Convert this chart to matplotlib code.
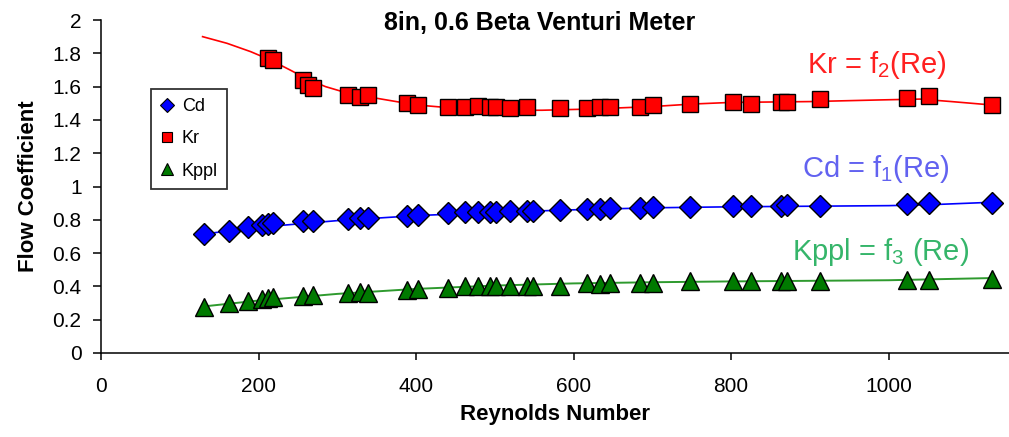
import matplotlib.pyplot as plt
from matplotlib.lines import Line2D

plt.rcParams["font.family"] = ["Liberation Sans", "DejaVu Sans"]
plt.rcParams["mathtext.default"] = "regular"

# Reynolds numbers of the measurements
re = [131, 163, 187, 204, 212, 219, 257, 269, 314, 329, 339, 388, 403, 441, 462, 479,
      494, 502, 519, 541, 549, 583, 617, 634, 646, 684, 701, 748, 803, 826, 864, 871,
      913, 1023, 1051, 1131]
cd = [0.715, 0.735, 0.755, 0.77, 0.775, 0.78, 0.79, 0.795, 0.805, 0.81, 0.81, 0.825,
      0.83, 0.84, 0.845, 0.845, 0.845, 0.845, 0.85, 0.85, 0.85, 0.86, 0.865, 0.865,
      0.87, 0.87, 0.875, 0.875, 0.885, 0.885, 0.885, 0.89, 0.885, 0.895, 0.9, 0.9]
kppl = [0.275, 0.3, 0.315, 0.325, 0.33, 0.335, 0.345, 0.35, 0.36, 0.365, 0.36, 0.38,
        0.385, 0.39, 0.4, 0.4, 0.4, 0.405, 0.405, 0.4, 0.405, 0.405, 0.42, 0.415,
        0.42, 0.42, 0.42, 0.43, 0.43, 0.43, 0.43, 0.43, 0.43, 0.44, 0.44, 0.445]

re_kr = [212, 219, 257, 263, 269, 314, 329, 339, 388, 403, 441, 462, 479, 494, 502,
         519, 541, 583, 617, 634, 646, 684, 701, 748, 803, 826, 864, 871, 913, 1023,
         1051, 1131]
kr = [1.77, 1.76, 1.64, 1.61, 1.59, 1.55, 1.54, 1.55, 1.50, 1.49, 1.475, 1.475, 1.483,
      1.477, 1.475, 1.47, 1.475, 1.47, 1.473, 1.48, 1.48, 1.475, 1.49, 1.494, 1.506,
      1.494, 1.506, 1.51, 1.524, 1.53, 1.544, 1.49]

# trend lines
fit_kr_x = [129, 160, 190, 215, 240, 260, 285, 310, 350, 400, 450, 500, 560, 620, 700,
            750, 800, 900, 990, 1040, 1080, 1130]
fit_kr_y = [1.90, 1.86, 1.81, 1.76, 1.70, 1.65, 1.60, 1.565, 1.53, 1.49, 1.47, 1.458,
            1.458, 1.465, 1.48, 1.495, 1.505, 1.51, 1.52, 1.525, 1.51, 1.49]
fit_cd_x = [131, 200, 300, 400, 500, 600, 700, 800, 1000, 1050, 1130]
fit_cd_y = [0.715, 0.755, 0.795, 0.825, 0.845, 0.86, 0.872, 0.878, 0.885, 0.89, 0.905]
fit_kp_x = [131, 200, 300, 400, 500, 600, 700, 800, 1000, 1130]
fit_kp_y = [0.28, 0.315, 0.355, 0.385, 0.405, 0.418, 0.425, 0.43, 0.437, 0.45]

fig = plt.figure(figsize=(10.09, 4.37), dpi=100)
ax = fig.add_axes([101 / 1009, 1 - 353 / 437, 1 - 101 / 1009, (353 - 20) / 437])

ax.plot(fit_kr_x, fit_kr_y, color="red", lw=1.2, zorder=2)
ax.plot(fit_cd_x, fit_cd_y, color="blue", lw=1.2, zorder=2)
ax.plot(fit_kp_x, fit_kp_y, color="#2e9a2e", lw=1.4, zorder=2)

ax.plot(re, cd, ls="none", marker="D", ms=11.5, mfc="blue", mec="black", mew=1.0, zorder=3)
ax.plot(re_kr, kr, ls="none", marker="s", ms=11, mfc="red", mec="black", mew=1.0, zorder=3)
ax.plot(re, kppl, ls="none", marker="^", ms=12.5, mfc="#007a00", mec="black", mew=1.0, zorder=3)

ax.set_xlim(0, 1153)
ax.set_ylim(0, 2)
ax.set_xticks([0, 200, 400, 600, 800, 1000])
ax.set_yticks([0, 0.2, 0.4, 0.6, 0.8, 1, 1.2, 1.4, 1.6, 1.8, 2])
ax.set_yticklabels(["0", "0.2", "0.4", "0.6", "0.8", "1", "1.2", "1.4", "1.6", "1.8", "2"])
ax.spines["top"].set_visible(False)
ax.spines["right"].set_visible(False)
for s in ["left", "bottom"]:
    ax.spines[s].set_linewidth(1.1)
ax.tick_params(axis="y", direction="out", length=6, width=1.1, labelsize=15, pad=8)
ax.tick_params(axis="x", direction="out", length=5, width=1.1, labelsize=15, pad=12)

ax.set_xlabel("Reynolds Number", fontsize=16, fontweight="bold", labelpad=6)
ax.set_ylabel("Flow Coefficient", fontsize=16, fontweight="bold", labelpad=10)
fig.text(540 / 1009, 1 - 23 / 437, "8in, 0.6 Beta Venturi Meter", fontsize=18,
         fontweight="bold", ha="center", va="center")

ax.text(897, 1.68, "Kr = f$_2$(Re)", color="#ff2020", fontsize=21)
ax.text(890, 1.06, "Cd = f$_1$(Re)", color="#6262f0", fontsize=21)
ax.text(877, 0.56, "Kppl = f$_3$ (Re)", color="#35b56a", fontsize=21)

handles = [
    Line2D([], [], ls="none", marker="D", ms=7, mfc="blue", mec="black", mew=0.8),
    Line2D([], [], ls="none", marker="s", ms=7, mfc="red", mec="black", mew=0.8),
    Line2D([], [], ls="none", marker="^", ms=8, mfc="#007a00", mec="black", mew=0.8),
]
leg = fig.legend(handles, ["Cd", "Kr", "Kppl"], loc="upper left",
                 bbox_to_anchor=(151 / 1009, 1 - 89 / 437), fontsize=13,
                 frameon=True, fancybox=False, handlelength=0.8, handletextpad=0.4,
                 labelspacing=0.85, borderpad=0.5, borderaxespad=0)
leg.get_frame().set_edgecolor("black")
leg.get_frame().set_linewidth(1.3)

fig.savefig("out.png", dpi=100)
